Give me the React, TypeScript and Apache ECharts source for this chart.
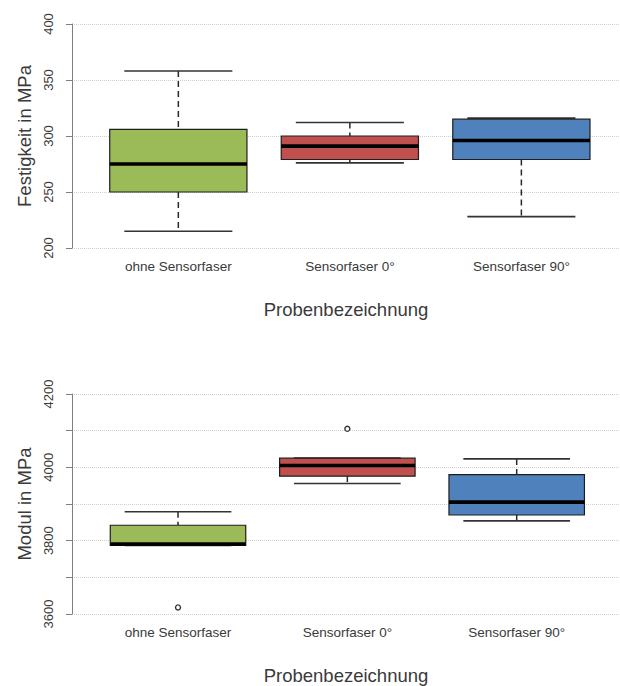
import React, { useEffect, useRef } from "react";
import * as echarts from "echarts";

const categories = ["ohne Sensorfaser", "Sensorfaser 0°", "Sensorfaser 90°"];
const boxColors = ["#9BBB59", "#C0504D", "#4F81BD"];

// [position, lower whisker, Q1, median, Q3, upper whisker]
const strengthBoxes = [
  [1, 215, 250, 275, 306, 358],
  [2, 276, 279, 291, 300, 312],
  [3, 228, 279, 296, 315, 316],
];
const strengthOutliers: number[][] = [];

const modulusBoxes = [
  [1, 3787, 3787, 3791, 3842, 3879],
  [2, 3956, 3976, 4005, 4025, 4025],
  [3, 3854, 3870, 3905, 3980, 4023],
];
const modulusOutliers = [
  [1, 3618],
  [2, 4105],
];

const FONT = "'Liberation Sans', Arial, sans-serif";
const TXT = "#3a3a3a";
const BOX_W = 0.8;
const CAP_W = 0.63;

function renderBox(params: any, api: any) {
  const x = api.value(0);
  const lo = api.coord([x, api.value(1)]);
  const q1 = api.coord([x, api.value(2)]);
  const md = api.coord([x, api.value(3)]);
  const q3 = api.coord([x, api.value(4)]);
  const hi = api.coord([x, api.value(5)]);
  const bw = api.size([BOX_W, 0])[0];
  const cw = api.size([CAP_W, 0])[0];
  const cx = lo[0];
  const color = boxColors[params.dataIndex];
  const whisk = { stroke: "#2a2a2a", lineWidth: 1.5, lineDash: [6, 4] };
  const cap = { stroke: "#333", lineWidth: 1.6 };
  return {
    type: "group",
    children: [
      { type: "line", shape: { x1: cx, y1: hi[1], x2: cx, y2: q3[1] }, style: whisk },
      { type: "line", shape: { x1: cx, y1: q1[1], x2: cx, y2: lo[1] }, style: whisk },
      { type: "line", shape: { x1: cx - cw / 2, y1: hi[1], x2: cx + cw / 2, y2: hi[1] }, style: cap },
      { type: "line", shape: { x1: cx - cw / 2, y1: lo[1], x2: cx + cw / 2, y2: lo[1] }, style: cap },
      {
        type: "rect",
        shape: { x: cx - bw / 2, y: q3[1], width: bw, height: q1[1] - q3[1] },
        style: { fill: color, stroke: "#1e1e1e", lineWidth: 1.2 },
      },
      {
        type: "line",
        shape: { x1: cx - bw / 2, y1: md[1], x2: cx + bw / 2, y2: md[1] },
        style: { stroke: "#000", lineWidth: 3.6 },
      },
    ],
  };
}

function makeX(gridIndex: number, min: number, max: number) {
  return {
    type: "value",
    gridIndex,
    min,
    max,
    name: "Probenbezeichnung",
    nameLocation: "middle",
    nameGap: 52,
    nameTextStyle: { fontFamily: FONT, fontSize: 18.5, color: TXT },
    axisLine: { show: false },
    axisTick: { show: false },
    splitLine: { show: false },
    axisLabel: {
      customValues: [1, 2, 3],
      formatter: (v: number) => categories[Math.round(v) - 1] ?? "",
      fontFamily: FONT,
      fontSize: 13.5,
      color: TXT,
      margin: 11,
    },
  };
}

function makeY(gridIndex: number, name: string, min: number, max: number, interval: number, labelStep: number) {
  return {
    type: "value",
    gridIndex,
    min,
    max,
    interval,
    name,
    nameLocation: "middle",
    nameGap: 37,
    nameRotate: 90,
    nameTextStyle: { fontFamily: FONT, fontSize: 18.5, color: TXT },
    axisLine: { show: true, lineStyle: { color: "#7f7f7f", width: 1 } },
    axisTick: { show: true, length: 6, lineStyle: { color: "#7f7f7f" } },
    axisLabel: {
      rotate: 90,
      margin: 17,
      fontFamily: FONT,
      fontSize: 13,
      color: TXT,
      formatter: (v: number) => (Math.round(v - min) % labelStep === 0 ? String(v) : ""),
    },
    splitLine: { show: true, lineStyle: { color: "#cfcfcf", type: "dotted", width: 1 } },
  };
}

export default function App() {
  const ref = useRef<HTMLDivElement>(null);
  useEffect(() => {
    if (!ref.current) return;
    const chart = echarts.init(ref.current, null, { renderer: "svg" });
    chart.setOption({
      animation: false,
      backgroundColor: "#ffffff",
      grid: [
        { left: 72, right: 0, top: 24, height: 224 },
        { left: 72, right: 0, top: 394, height: 224 },
      ],
      xAxis: [makeX(0, 0.38, 3.575), makeX(1, 0.374, 3.61)],
      yAxis: [
        makeY(0, "Festigkeit in MPa", 200, 400, 50, 50),
        makeY(1, "Modul in MPa", 3600, 4200, 100, 200),
      ],
      series: [
        {
          type: "custom",
          xAxisIndex: 0,
          yAxisIndex: 0,
          renderItem: renderBox,
          encode: { x: 0, y: [1, 2, 3, 4, 5] },
          data: strengthBoxes,
          z: 3,
        },
        {
          type: "scatter",
          xAxisIndex: 0,
          yAxisIndex: 0,
          data: strengthOutliers,
          symbol: "circle",
          symbolSize: 5,
          itemStyle: { color: "#ffffff", borderColor: "#333333", borderWidth: 1.4, opacity: 1 },
          z: 4,
        },
        {
          type: "custom",
          xAxisIndex: 1,
          yAxisIndex: 1,
          renderItem: renderBox,
          encode: { x: 0, y: [1, 2, 3, 4, 5] },
          data: modulusBoxes,
          z: 3,
        },
        {
          type: "scatter",
          xAxisIndex: 1,
          yAxisIndex: 1,
          data: modulusOutliers,
          symbol: "circle",
          symbolSize: 5,
          itemStyle: { color: "#ffffff", borderColor: "#333333", borderWidth: 1.4, opacity: 1 },
          z: 4,
        },
      ],
    });
    return () => chart.dispose();
  }, []);
  return (
    <div
      ref={ref}
      style={{ position: "absolute", left: 0, top: 0, width: 620, height: 686, background: "#fff" }}
    />
  );
}
